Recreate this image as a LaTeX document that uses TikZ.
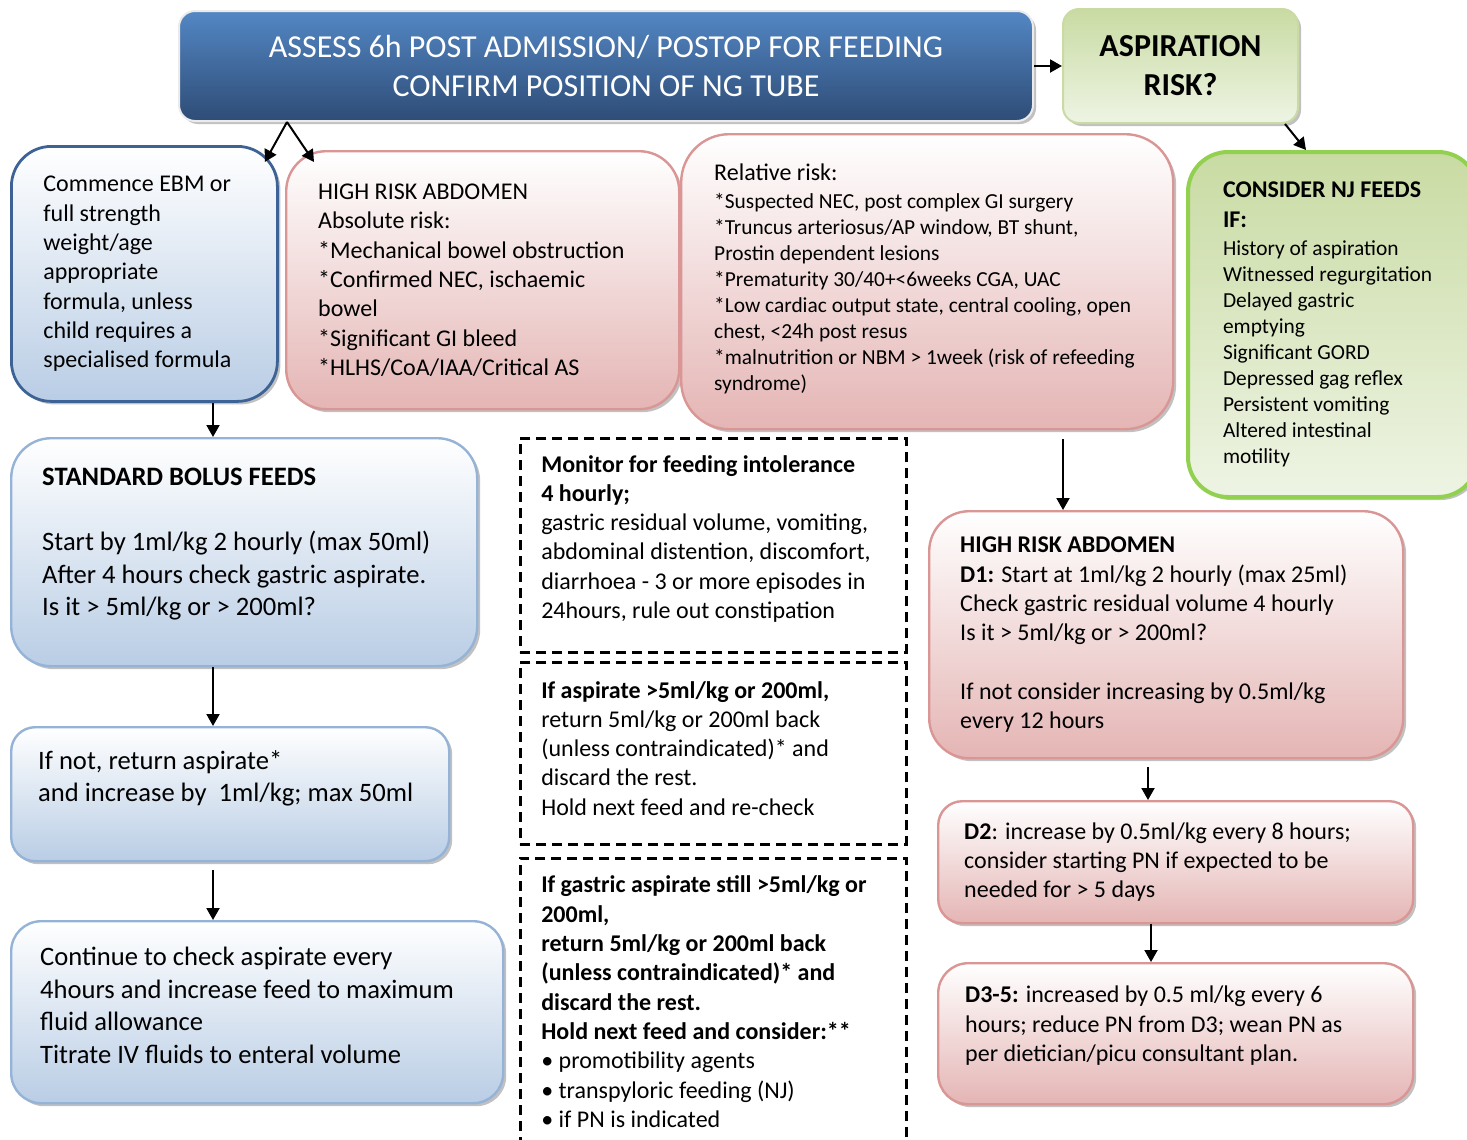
\documentclass[tikz,border=0pt]{standalone}
\usepackage{fontspec}
\setmainfont{Carlito}
\usepackage{tikz}
\usetikzlibrary{
  arrows.meta,
  shadows,
  calc
}
\definecolor{fdHdrTop}{HTML}{5387C4}
\definecolor{fdHdrBot}{HTML}{2E4C76}
\definecolor{fdBlue}{HTML}{B9CDE5}
\definecolor{fdBlueLine}{HTML}{95B3D7}
\definecolor{fdBlueDark}{HTML}{3D6396}
\definecolor{fdPink}{HTML}{E4B5B4}
\definecolor{fdPinkLine}{HTML}{D99694}
\definecolor{fdGreen}{HTML}{C9DBA3}
\definecolor{fdGreenLight}{HTML}{EEF4E4}
\definecolor{fdGreenLine}{HTML}{92D050}
\newcommand{\fdpad}[1]{\par\vspace{#1}\hrule height 0pt\relax}
\tikzset{
  fdbox/.style={
    anchor=north west, align=flush left, inner ysep=0pt,
    drop shadow={shadow xshift=1.5pt, shadow yshift=-1.5pt, opacity=0.35, fill=black!70}
  },
  bluebox/.style={fdbox, draw=fdBlueLine, line width=1.2pt, top color=white, bottom color=fdBlue},
  pinkbox/.style={fdbox, draw=fdPinkLine, line width=1.2pt, top color=white, bottom color=fdPink},
  greenbox/.style={fdbox, top color=fdGreen, bottom color=fdGreenLight},
  dashbox/.style={
    anchor=north west, align=flush left, inner ysep=0pt, draw,
    line width=1.3pt, dash pattern=on 5pt off 3pt
  },
  fdtext/.style={font=\fontsize{12}{14.65}\selectfont},
  fdbig/.style={font=\fontsize{13.3}{16.25}\selectfont},
  fdsmall/.style={font=\fontsize{10.7}{13}\selectfont},
  flow/.style={-{Triangle[length=6pt,width=6.5pt]}, line width=1pt, black}
}

\begin{document}
\begin{tikzpicture}[x=0.5pt, y=-0.5pt]
  \useasboundingbox (0,0) rectangle (1467,1140);
  % top row
  \node[fdbox, top color=fdHdrTop, bottom color=fdHdrBot, draw=black!8, line width=1pt,
        rounded corners=8pt, align=flush center, text=white, minimum width=427pt, minimum height=55pt,
        font=\fontsize{16}{19.6}\selectfont] (hdr) at (178,10)
    {ASSESS 6h POST ADMISSION/ POSTOP FOR FEEDING\\CONFIRM POSITION OF NG TUBE};
  \node[greenbox, draw=fdGreen, line width=1pt, rounded corners=8pt, align=flush center,
        minimum width=117.5pt, minimum height=57pt, font=\fontsize{16}{19.5}\selectfont\bfseries] (asp) at (1062,8)
    {ASPIRATION\\RISK?};

  % risk boxes
  \node[bluebox, fdtext, draw=fdBlueDark, line width=1.4pt, rounded corners=20pt,
        minimum width=133pt, minimum height=127.5pt, inner xsep=16pt, text width=101pt] (ebm) at (10,145)
    {Commence EBM or\\full strength\\weight/age\\appropriate\\formula, unless\\child requires a\\specialised formula};
  \node[pinkbox, fdtext, rounded corners=20pt,
        minimum width=196.5pt, minimum height=129pt, inner xsep=16pt, text width=164.5pt] (abs) at (285,150)
    {HIGH RISK ABDOMEN\\Absolute risk:\\{}*Mechanical bowel obstruction\\{}*Confirmed NEC, ischaemic\\bowel\\{}*Significant GI bleed\\{}*HLHS/CoA/IAA/Critical AS};
  \node[pinkbox, fdsmall, rounded corners=24pt,
        minimum width=246pt, minimum height=147.5pt, inner xsep=16.5pt, text width=213pt] (rel) at (680,133)
    {{\fontsize{12}{14}\selectfont Relative risk:}\\[1pt]*Suspected NEC, post complex GI surgery\\{}*Truncus arteriosus/AP window, BT shunt,\\Prostin dependent lesions\\{}*Prematurity 30/40+<6weeks CGA, UAC\\{}*Low cardiac output state, central cooling, open\\chest, <24h post resus\\{}*malnutrition or NBM > 1week (risk of refeeding\\syndrome)\fdpad{3pt}};
  \node[greenbox, fdsmall, draw=fdGreenLine, line width=2pt, rounded corners=20pt,
        minimum width=145pt, minimum height=172.5pt, inner xsep=17.5pt, text width=110pt] (nj) at (1186,150)
    {{\fontsize{12}{15}\selectfont\bfseries CONSIDER NJ FEEDS}\\[2pt]{\fontsize{12}{15}\selectfont\bfseries IF:}\\[1pt]History of aspiration\\Witnessed regurgitation\\Delayed gastric\\emptying\\Significant GORD\\Depressed gag reflex\\Persistent vomiting\\Altered intestinal\\motility};

  % left column
  \node[bluebox, fdbig, rounded corners=20pt,
        minimum width=233pt, minimum height=114pt, inner xsep=15.5pt, text width=202pt] (std) at (10,437)
    {\textbf{STANDARD BOLUS FEEDS}\\[16.25pt]Start by 1ml/kg 2 hourly (max 50ml)\\After 4 hours check gastric aspirate.\\Is it > 5ml/kg or > 200ml?\fdpad{8pt}};
  \node[bluebox, fdbig, rounded corners=12pt,
        minimum width=219pt, minimum height=67pt, inner xsep=13.5pt, text width=192pt] (ifnot) at (10,726)
    {If not, return aspirate*\\and increase by\ \ 1ml/kg; max 50ml\fdpad{16pt}};
  \node[bluebox, fdbig, rounded corners=15pt,
        minimum width=246pt, minimum height=91pt, inner xsep=14.5pt, text width=217pt] (cont) at (10,920)
    {Continue to check aspirate every\\4hours and increase feed to maximum\\fluid allowance\\Titrate IV fluids to enteral volume\fdpad{7pt}};

  % middle column
  \node[dashbox, fdtext, minimum width=193pt, minimum height=107pt, inner xsep=10.5pt, text width=172pt] (mon) at (519,437)
    {\textbf{Monitor for feeding intolerance}\\\textbf{4 hourly;}\\gastric residual volume, vomiting,\\abdominal distention, discomfort,\\diarrhoea - 3 or more episodes in\\24hours, rule out constipation\fdpad{6.5pt}};
  \node[dashbox, fdtext, minimum width=193pt, minimum height=91pt, inner xsep=10.5pt, text width=172pt] (aspa) at (519,661)
    {\textbf{If aspirate >5ml/kg or 200ml,}\\return 5ml/kg or 200ml back\\(unless contraindicated)* and\\discard the rest.\\Hold next feed and re-check\fdpad{5pt}};
  \node[dashbox, fdtext, minimum width=193pt, minimum height=146.5pt, inner xsep=10.5pt, text width=172pt] (aspb) at (519,857)
    {\textbf{If gastric aspirate still >5ml/kg or}\\\textbf{200ml,}\\\textbf{return 5ml/kg or 200ml back}\\\textbf{(unless contraindicated)* and}\\\textbf{discard the rest.}\\\textbf{Hold next feed and consider:**}\\• promotibility agents\\• transpyloric feeding (NJ)\\• if PN is indicated\fdpad{3pt}};

  % right column
  \node[pinkbox, fdtext, rounded corners=20pt,
        minimum width=237pt, minimum height=123.5pt, inner xsep=15.5pt, text width=206pt] (hra) at (928,510)
    {\textbf{HIGH RISK ABDOMEN}\\\textbf{D1:} Start at 1ml/kg 2 hourly (max 25ml)\\Check gastric residual volume 4 hourly\\Is it > 5ml/kg or > 200ml?\\[14.65pt]If not consider increasing by 0.5ml/kg\\every 12 hours};
  \node[pinkbox, fdtext, rounded corners=12pt,
        minimum width=237.5pt, minimum height=61pt, inner xsep=13pt, text width=211.5pt] (dtwo) at (937,800)
    {\textbf{D2}: increase by 0.5ml/kg every 8 hours;\\consider starting PN if expected to be\\needed for > 5 days};
  \node[pinkbox, fdtext, rounded corners=15pt,
        minimum width=237.5pt, minimum height=70.5pt, inner xsep=13.5pt, text width=210.5pt] (dthree) at (937,962)
    {\textbf{D3-5:} increased by 0.5 ml/kg every 6\\hours; reduce PN from D3; wean PN as\\per dietician/picu consultant plan.\fdpad{8pt}};

  % connectors
  \coordinate (lc) at (213,0);
  \coordinate (rc) at (1063,0);
  \draw[flow] ([xshift=54.5pt]hdr.south west) -- ([xshift=-7pt,yshift=-8.5pt]ebm.north east);
  \draw[flow] ([xshift=54.5pt]hdr.south west) -- ([xshift=14.5pt,yshift=-6pt]abs.north west);
  \draw[flow] (hdr.east) -- (asp.west);
  \draw[flow] ([xshift=-7pt]asp.south east) -- ([xshift=60pt]nj.north west);
  \draw[flow] (ebm.south -| lc) -- (std.north -| lc);
  \draw[flow] (std.south -| lc) -- (ifnot.north -| lc);
  \draw[flow, shorten <=4pt] (ifnot.south -| lc) -- (cont.north -| lc);
  \draw[flow, shorten <=4.5pt] (rel.south -| rc) -- (hra.north -| rc);
  \draw[flow, shorten <=4pt] ([xshift=110pt]hra.south west) -- ([xshift=105.5pt]dtwo.north west);
  \draw[flow] ([xshift=107pt]dtwo.south west) -- ([xshift=107pt]dthree.north west);
\end{tikzpicture}
\end{document}
